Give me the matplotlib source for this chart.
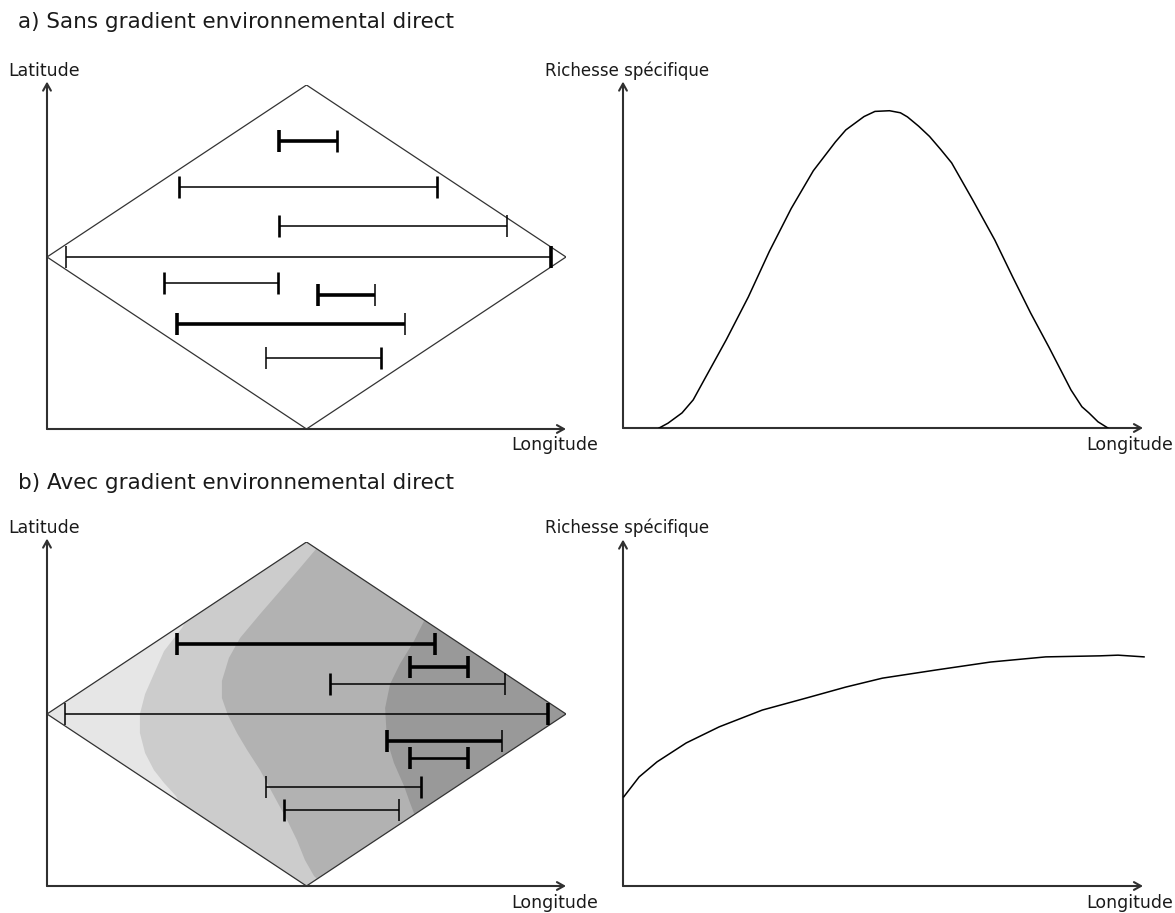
import matplotlib
matplotlib.use("Agg")
import matplotlib.pyplot as plt
from matplotlib.patches import Polygon

# ---------------------------------------------------------------------------
# Data (longitude 0..2 across the domain, latitude -1..1, richness 0..1)
# ---------------------------------------------------------------------------
# a) ranges without environmental gradient
ranges_a_lat = [0.674, 0.407, 0.180, 0.0, -0.150, -0.221, -0.390, -0.587]
ranges_a_start = [0.893, 0.507, 0.893, 0.073, 0.451, 1.044, 0.501, 0.844]
ranges_a_end = [1.117, 1.504, 1.774, 1.941, 0.890, 1.264, 1.378, 1.287]

# b) ranges with environmental gradient
ranges_b_lat = [0.407, 0.275, 0.174, 0.0, -0.157, -0.256, -0.424, -0.556]
ranges_b_start = [0.501, 1.398, 1.089, 0.071, 1.310, 1.398, 0.845, 0.912]
ranges_b_end = [1.497, 1.621, 1.764, 1.931, 1.753, 1.621, 1.441, 1.355]

# species richness along longitude
richness_a_lon = [0.139, 0.173, 0.227, 0.270, 0.312, 0.397, 0.482, 0.563, 0.647,
                  0.732, 0.817, 0.857, 0.927, 0.969, 1.025, 1.067, 1.094, 1.137,
                  1.179, 1.222, 1.264, 1.345, 1.430, 1.499, 1.568, 1.638, 1.723,
                  1.765, 1.792, 1.827, 1.865]
richness_a_val = [0.0, 0.014, 0.044, 0.082, 0.140, 0.257, 0.382, 0.515, 0.640,
                  0.750, 0.834, 0.869, 0.908, 0.923, 0.925, 0.919, 0.907, 0.880,
                  0.850, 0.812, 0.773, 0.665, 0.548, 0.440, 0.335, 0.236, 0.111,
                  0.062, 0.044, 0.018, 0.0]

richness_b_lon = [0.003, 0.062, 0.131, 0.243, 0.370, 0.536, 0.705, 0.857, 0.998,
                  1.206, 1.414, 1.626, 1.834, 1.904, 2.004]
richness_b_val = [0.260, 0.318, 0.362, 0.417, 0.464, 0.513, 0.548, 0.580, 0.606,
                  0.630, 0.653, 0.668, 0.671, 0.673, 0.668]

# environmental zone boundaries (longitude, latitude), top to bottom
zone1_lon = [0.55, 0.520, 0.451, 0.412, 0.378, 0.358, 0.358, 0.378, 0.412, 0.451, 0.497, 0.52]
zone1_lat = [0.58, 0.500, 0.366, 0.233, 0.116, 0.0, -0.110, -0.227, -0.326, -0.401, -0.477, -0.54]
zone2_lon = [1.06, 1.040, 0.975, 0.898, 0.821, 0.744, 0.701, 0.674, 0.674, 0.697, 0.732,
             0.771, 0.821, 0.875, 0.925, 0.963, 0.994, 1.029, 1.07]
zone2_lat = [1.0, 0.965, 0.849, 0.715, 0.581, 0.442, 0.326, 0.192, 0.093, -0.006, -0.110,
             -0.209, -0.326, -0.477, -0.616, -0.733, -0.849, -0.942, -1.0]
zone3_lon = [1.49, 1.453, 1.414, 1.360, 1.322, 1.303, 1.310, 1.337, 1.376, 1.399, 1.414, 1.45]
zone3_lat = [0.60, 0.541, 0.424, 0.291, 0.174, 0.035, -0.151, -0.285, -0.419, -0.517, -0.576, -0.62]

# ---------------------------------------------------------------------------
# Styling
# ---------------------------------------------------------------------------
THICK, MED, THIN = 2.6, 1.9, 1.1
# (line, left cap, right cap) widths
style_a = [(THICK, THICK, MED), (THIN, MED, MED), (THIN, MED, THIN), (THIN, THIN, THICK),
           (THIN, MED, MED), (THICK, THICK, THIN), (THICK, THICK, THIN), (THIN, THIN, MED)]
style_b = [(THICK, THICK, THICK), (THICK, THICK, THICK), (THIN, MED, THIN), (THIN, THIN, THICK),
           (THICK, THICK, THIN), (MED, THICK, THICK), (THIN, THIN, MED), (THIN, MED, THIN)]
zone_colors = ["#e6e6e6", "#cccccc", "#b2b2b2", "#999999"]
AXIS_COLOR = "#303030"
TEXT_COLOR = "#1a1a1a"
FONT = "DejaVu Sans"

W, H = 1175, 913
fig = plt.figure(figsize=(W / 100, H / 100), dpi=100)


def px_axes(left, top, width, height):
    ax = fig.add_axes([left / W, 1 - (top + height) / H, width / W, height / H])
    ax.axis("off")
    return ax


def draw_axes_arrows(ax, x0, y0, x1, y1):
    props = dict(arrowstyle="->,head_length=0.5,head_width=0.28", lw=1.5,
                 color=AXIS_COLOR, shrinkA=0, shrinkB=0)
    ax.annotate("", xy=(x0, y1), xytext=(x0, y0), arrowprops=props, annotation_clip=False)
    ax.annotate("", xy=(x1, y0), xytext=(x0, y0), arrowprops=props, annotation_clip=False)


def draw_ranges(ax, lats, starts, ends, styles):
    cap = 11 / 172
    for lat, s, e, (lw, lcap, rcap) in zip(lats, starts, ends, styles):
        ax.plot([s, e], [lat, lat], color="black", lw=lw, solid_capstyle="butt", zorder=5)
        ax.plot([s, s], [lat - cap, lat + cap], color="black", lw=lcap,
                solid_capstyle="butt", zorder=6)
        ax.plot([e, e], [lat - cap, lat + cap], color="black", lw=rcap,
                solid_capstyle="butt", zorder=6)


def diamond_axes(top):
    ax = px_axes(47, top, 519, 344)
    ax.set_xlim(0, 2)
    ax.set_ylim(-1, 1)
    draw_axes_arrows(ax, 0, -1, 2.0, 1.02)
    return ax


diamond_xy = [(0, 0), (1, 1), (2, 0), (1, -1)]

# --- a) left: ranges in the domain
ax_a = diamond_axes(85)
ax_a.add_patch(Polygon(diamond_xy, closed=True, fill=False, edgecolor="#333333", lw=0.9, zorder=3))
draw_ranges(ax_a, ranges_a_lat, ranges_a_start, ranges_a_end, style_a)

# --- b) left: ranges over an environmental gradient
ax_b = diamond_axes(542)
clip = Polygon(diamond_xy, closed=True, transform=ax_b.transData)
base = Polygon(diamond_xy, closed=True, facecolor=zone_colors[3], edgecolor="none", zorder=1)
ax_b.add_patch(base)
for color, lons, lats in [(zone_colors[2], zone3_lon, zone3_lat),
                          (zone_colors[1], zone2_lon, zone2_lat),
                          (zone_colors[0], zone1_lon, zone1_lat)]:
    pts = [(-1, 1.1), (lons[0], 1.1)] + list(zip(lons, lats)) + [(lons[-1], -1.1), (-1, -1.1)]
    zone = Polygon(pts, closed=True, facecolor=color, edgecolor="none", zorder=2)
    ax_b.add_patch(zone)
    zone.set_clip_path(clip)
ax_b.add_patch(Polygon(diamond_xy, closed=True, fill=False, edgecolor="#333333", lw=0.9, zorder=3))
draw_ranges(ax_b, ranges_b_lat, ranges_b_start, ranges_b_end, style_b)


# --- right: species richness curves
def richness_axes(top):
    ax = px_axes(623, top, 520, 343)
    ax.set_xlim(0, 2)
    ax.set_ylim(0, 1)
    draw_axes_arrows(ax, 0, 0, 2.0, 1.01)
    return ax


ax_ra = richness_axes(85)
ax_ra.plot(richness_a_lon, richness_a_val, color="black", lw=1.1, zorder=4,
           solid_joinstyle="round")

ax_rb = richness_axes(543)
ax_rb.plot(richness_b_lon, richness_b_val, color="black", lw=1.1, zorder=4, clip_on=False,
           solid_joinstyle="round")

# --- labels
def ftext(x, y, s, size=12.5, ha="left"):
    fig.text(x / W, 1 - y / H, s, fontsize=size, ha=ha, va="center",
             color=TEXT_COLOR, family=FONT)


ftext(18, 22, "a) Sans gradient environnemental direct", size=15.5)
ftext(18, 483, "b) Avec gradient environnemental direct", size=15.5)
for y in (71, 528):
    ftext(8, y, "Latitude")
    ftext(545, y, "Richesse spécifique", size=12)
for y in (445, 903):
    ftext(598, y, "Longitude", ha="right")
    ftext(1173, y, "Longitude", ha="right")

fig.savefig("out.png", dpi=100, facecolor="white")
